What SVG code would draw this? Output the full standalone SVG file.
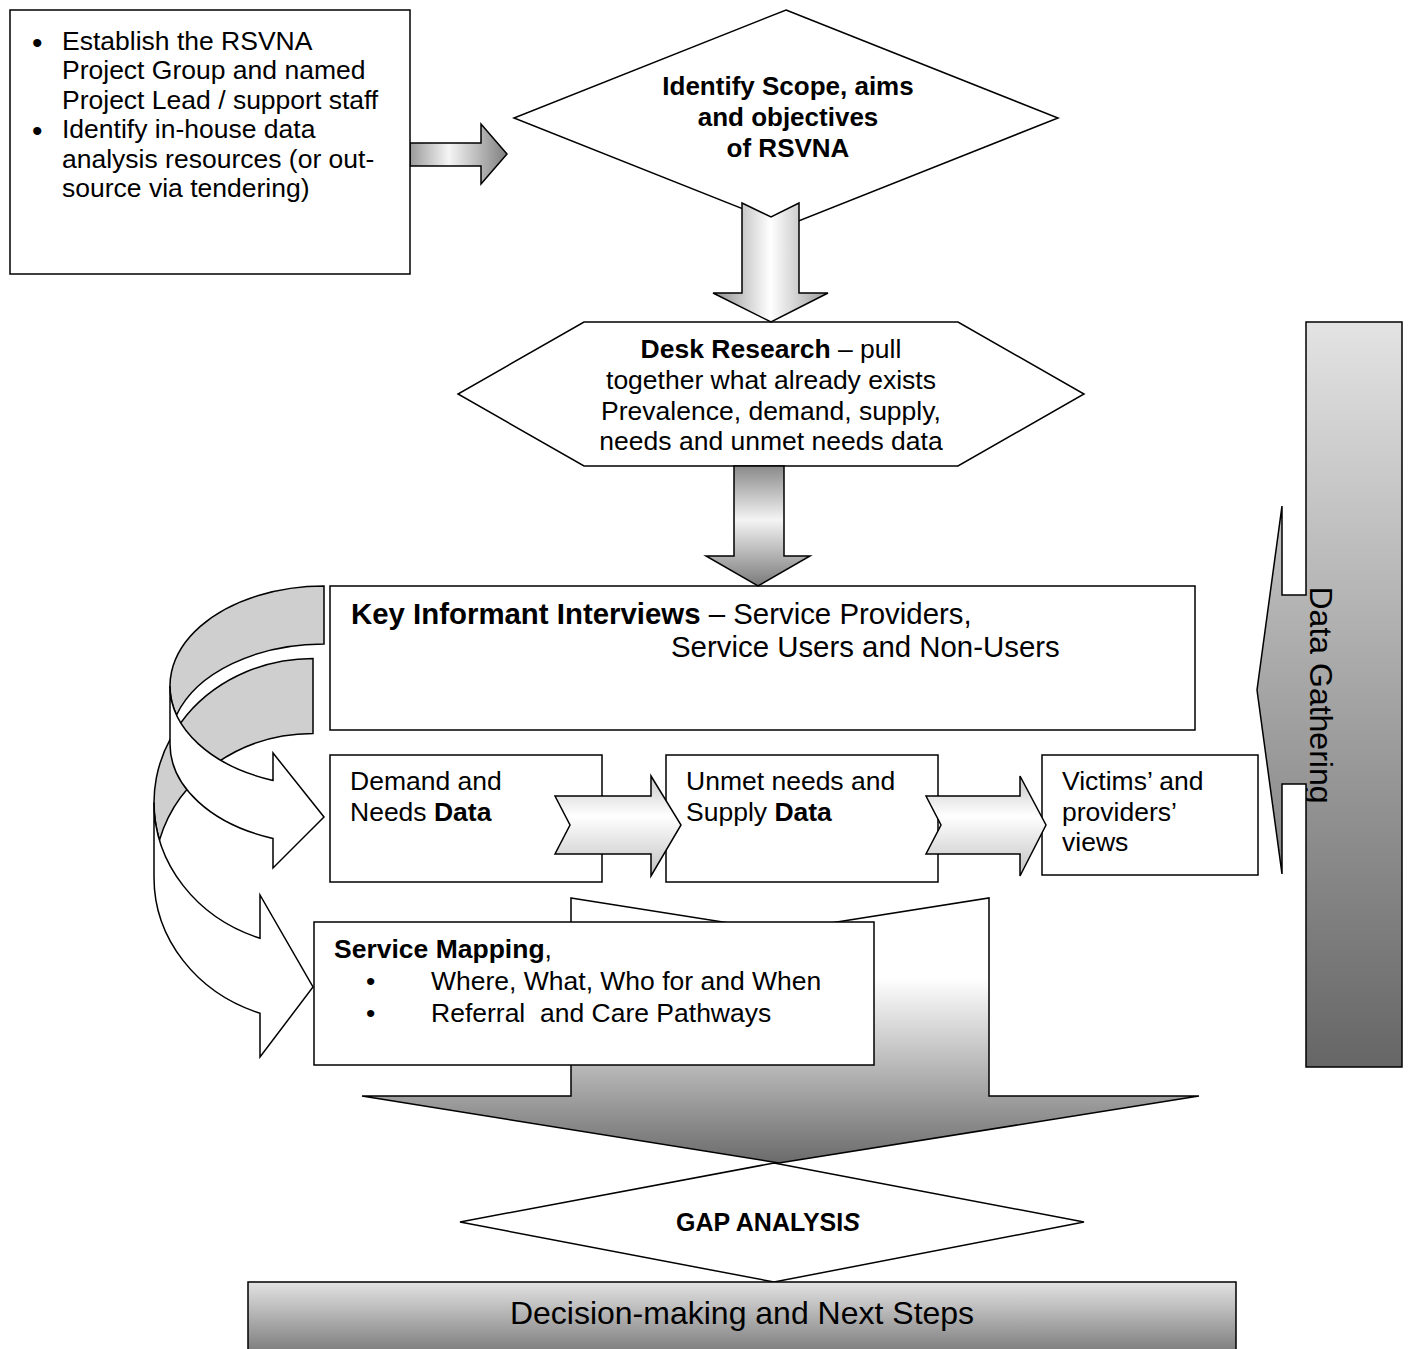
<svg xmlns="http://www.w3.org/2000/svg" width="1410" height="1349" viewBox="0 0 1410 1349">
<style>
.t{font-family:"Liberation Sans",Arial,Helvetica,sans-serif;fill:#000}
.b{font-weight:bold}
.s{stroke:#000;stroke-width:1.5;stroke-linejoin:miter}
.w{fill:#fff}
.back{fill:#cfcfcf}
</style>
<defs>
<linearGradient id="gH" x1="0" y1="0" x2="1" y2="0"><stop offset="0" stop-color="#8f8f8f"/><stop offset="0.5" stop-color="#ffffff"/><stop offset="1" stop-color="#9a9a9a"/></linearGradient>
<linearGradient id="gR" x1="0" y1="0" x2="1" y2="0"><stop offset="0" stop-color="#9a9a9a"/><stop offset="0.4" stop-color="#f5f5f5"/><stop offset="1" stop-color="#7f7f7f"/></linearGradient>
<linearGradient id="gV" x1="0" y1="0" x2="0" y2="1"><stop offset="0" stop-color="#8a8a8a"/><stop offset="0.45" stop-color="#f4f4f4"/><stop offset="1" stop-color="#7a7a7a"/></linearGradient>
<linearGradient id="gC" x1="0" y1="0" x2="0" y2="1"><stop offset="0" stop-color="#c9c9c9"/><stop offset="0.4" stop-color="#ffffff"/><stop offset="1" stop-color="#c2c2c2"/></linearGradient>
<linearGradient id="gBig" x1="0" y1="0" x2="0" y2="1"><stop offset="0" stop-color="#ffffff"/><stop offset="0.3" stop-color="#ffffff"/><stop offset="1" stop-color="#6b6b6b"/></linearGradient>
<linearGradient id="gDec" x1="0" y1="0" x2="0" y2="1"><stop offset="0" stop-color="#e3e3e3"/><stop offset="1" stop-color="#6e6e6e"/></linearGradient>
<linearGradient id="gDG" x1="0" y1="0" x2="0" y2="1"><stop offset="0" stop-color="#e3e3e3"/><stop offset="1" stop-color="#666666"/></linearGradient>
<clipPath id="dgClip"><path d="M1306,322 H1402 V1067 H1306 V784 H1282 V874 L1257,690 L1282,506 V595 H1306 Z"/></clipPath>
</defs>

<g id="connectors">
  <g id="curved-arrow-2">
    <path class="s back" d="M313,733.5 A159 144 0 0 0 159.5,840 A159 144 0 0 1 313,658.5 Z"/>
    <path class="s w" d="M154,802.5 A159 144 0 0 0 260,938.3 L260,895 L313,987 L260,1057 L260,1013.3 A159 144 0 0 1 154,877.5 Z"/>
  </g>
  <g id="curved-arrow-1">
    <path class="s back" d="M324,644 A154 100 0 0 0 176.6,715 A154 100 0 0 1 324,586 Z"/>
    <path class="s w" d="M170,686 A154 100 0 0 0 273,780.4 L273,753 L324,817 L273,868 L273,838.4 A154 100 0 0 1 170,744 Z"/>
  </g>
  <path id="arrow-setup-scope" class="s" fill="url(#gR)" d="M410,143 L481,143 L481,124 L507,154 L481,184 L481,166 L410,166 Z"/>
  <path id="big-arrow" class="s" fill="url(#gBig)" d="M571,898 L780,931 L989,898 L989,1096 L1199,1096 L779,1163 L362,1096 L571,1096 Z"/>
</g>

<g id="node-setup">
  <rect class="s w" x="10" y="10" width="400" height="264"/>
  <text class="t" font-size="30" x="32" y="53">•</text>
  <text class="t" font-size="30" x="32" y="141">•</text>
  <text class="t" font-size="26.5" x="62" y="50">Establish the RSVNA</text>
  <text class="t" font-size="26.5" x="62" y="79">Project Group and named</text>
  <text class="t" font-size="26.5" x="62" y="109">Project Lead / support staff</text>
  <text class="t" font-size="26.5" x="62" y="138">Identify in-house data</text>
  <text class="t" font-size="26.5" x="62" y="168">analysis resources (or out-</text>
  <text class="t" font-size="26.5" x="62" y="197">source via tendering)</text>
</g>

<g id="node-scope">
  <path class="s w" d="M786,10 L1058,118 L786,226 L514,118 Z"/>
  <text class="t b" font-size="26" text-anchor="middle" x="788" y="95">Identify Scope, aims</text>
  <text class="t b" font-size="26" text-anchor="middle" x="788" y="126">and objectives</text>
  <text class="t b" font-size="26" text-anchor="middle" x="788" y="157">of RSVNA</text>
</g>

<g id="node-desk">
  <path class="s w" d="M584,322 L958,322 L1084,394 L958,466 L584,466 L458,394 Z"/>
  <text class="t" font-size="26.5" text-anchor="middle" x="771" y="358"><tspan class="b">Desk Research</tspan> – pull</text>
  <text class="t" font-size="26.5" text-anchor="middle" x="771" y="389">together what already exists</text>
  <text class="t" font-size="26.5" text-anchor="middle" x="771" y="420">Prevalence, demand, supply,</text>
  <text class="t" font-size="26.5" text-anchor="middle" x="771" y="450">needs and unmet needs data</text>
</g>

<g id="connectors-2">
  <path id="arrow-scope-desk" class="s" fill="url(#gH)" d="M742,203 L771,217 L799,203 L799,293 L828,293 L771,322 L713,293 L742,293 Z"/>
</g>

<g id="node-kii">
  <rect class="s w" x="330" y="586" width="865" height="144"/>
  <text class="t" font-size="29.4" x="351" y="624"><tspan class="b">Key Informant Interviews</tspan> – Service Providers,</text>
  <text class="t" font-size="29.4" x="671" y="657">Service Users and Non-Users</text>
</g>

<path id="arrow-desk-kii" class="s" fill="url(#gV)" d="M734,466 L784,466 L784,556 L810,556 L758,586 L706,556 L734,556 Z"/>

<g id="node-demand">
  <rect class="s w" x="330" y="755" width="272" height="127"/>
  <text class="t" font-size="26.5" x="350" y="790">Demand and</text>
  <text class="t" font-size="26.5" x="350" y="821">Needs <tspan class="b">Data</tspan></text>
</g>
<g id="node-unmet">
  <rect class="s w" x="666" y="755" width="272" height="127"/>
  <text class="t" font-size="26.5" x="686" y="790">Unmet needs and</text>
  <text class="t" font-size="26.5" x="686" y="821">Supply <tspan class="b">Data</tspan></text>
</g>
<g id="node-views">
  <rect class="s w" x="1042" y="755" width="216" height="120"/>
  <text class="t" font-size="26.5" x="1062" y="790">Victims’ and</text>
  <text class="t" font-size="26.5" x="1062" y="821">providers’</text>
  <text class="t" font-size="26.5" x="1062" y="851">views</text>
</g>

<g id="connectors-3">
  <path id="chevron-1" class="s" fill="url(#gC)" d="M555,796 L651,796 L651,776 L681,825 L651,876 L651,854 L555,854 L570,825 Z"/>
  <path id="chevron-2" class="s" fill="url(#gC)" d="M926,796 L1020,796 L1020,776 L1046,825 L1020,876 L1020,854 L926,854 L941,825 Z"/>
</g>

<g id="node-mapping">
  <rect class="s w" x="314" y="922" width="560" height="143"/>
  <text class="t" font-size="26.5" x="334" y="958"><tspan class="b">Service Mapping</tspan>,</text>
  <text class="t" font-size="26.5" x="366" y="990">•</text>
  <text class="t" font-size="26.5" x="366" y="1022">•</text>
  <text class="t" font-size="26.5" x="431" y="990">Where, What, Who for and When</text>
  <text class="t" font-size="26.5" x="431" y="1022" xml:space="preserve">Referral  and Care Pathways</text>
</g>

<g id="node-gap">
  <path class="s w" d="M774,1163 L1084,1222 L774,1282 L460,1222 Z"/>
  <text class="t b" font-size="25" text-anchor="middle" x="768" y="1231">GAP ANALYSI<tspan font-style="italic">S</tspan></text>
</g>

<g id="node-decision">
  <rect class="s" fill="url(#gDec)" x="248" y="1282" width="988" height="80"/>
  <text class="t" font-size="32" text-anchor="middle" x="742" y="1324">Decision-making and Next Steps</text>
</g>

<g id="node-data-gathering">
  <path class="s" fill="url(#gDG)" d="M1306,322 H1402 V1067 H1306 V784 H1282 V874 L1257,690 L1282,506 V595 H1306 Z"/>
  <g clip-path="url(#dgClip)">
    <text class="t" font-size="32" text-anchor="middle" transform="translate(1310,695) rotate(90)">Data Gathering</text>
  </g>
</g>
</svg>
